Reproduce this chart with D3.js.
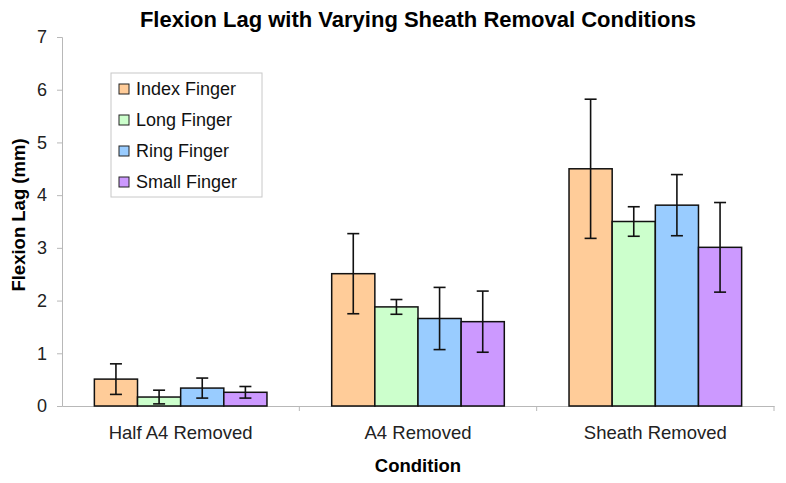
<!DOCTYPE html>
<html>
<head>
<meta charset="utf-8">
<script src="https://cdn.jsdelivr.net/npm/d3@7"></script>
<style>
  body { margin: 0; background: #fff; }
  svg { font-family: Arial, "Liberation Sans", sans-serif; }
</style>
</head>
<body>
<svg width="786" height="483"></svg>
<script>
// Chart data
const conditions = ["Half A4 Removed", "A4 Removed", "Sheath Removed"];
const fingers = ["Index Finger", "Long Finger", "Ring Finger", "Small Finger"];
const fingerColors = ["#FFCC99", "#CCFFCC", "#99CCFF", "#CC99FF"];
const meanIndex = [0.51, 2.51, 4.5];
const meanLong = [0.17, 1.88, 3.5];
const meanRing = [0.34, 1.66, 3.81];
const meanSmall = [0.26, 1.6, 3.01];
const errIndex = [0.29, 0.76, 1.32];
const errLong = [0.13, 0.14, 0.28];
const errRing = [0.19, 0.59, 0.58];
const errSmall = [0.11, 0.58, 0.85];
const yTicks = [0, 1, 2, 3, 4, 5, 6, 7];

const means = [meanIndex, meanLong, meanRing, meanSmall];
const errs = [errIndex, errLong, errRing, errSmall];

const margin = { top: 37, right: 12, bottom: 77, left: 62 };
const width = 786 - margin.left - margin.right;
const height = 483 - margin.top - margin.bottom;

const svg = d3.select("svg")
    .append("g")
    .attr("transform", `translate(${margin.left},${margin.top})`);

// Scales (gap width 150% of a bar, as in the original)
const x0 = d3.scaleBand().domain(conditions).range([0, width]).padding(0);
const x1 = d3.scaleBand().domain(fingers).range([0, x0.bandwidth()])
    .paddingInner(0).paddingOuter(0.75);
const y = d3.scaleLinear().domain([0, 7]).range([height, 0]);

// Axes
const gy = svg.append("g")
    .call(d3.axisLeft(y).tickValues(yTicks).tickFormat(d3.format("d")).tickSize(5).tickPadding(10));
gy.select(".domain").attr("stroke", "#b8b8b8");
gy.selectAll(".tick line").attr("stroke", "#b8b8b8");
gy.selectAll(".tick text").attr("fill", "#222").style("font-size", "18px");

const gx = svg.append("g")
    .attr("transform", `translate(0,${height})`)
    .call(d3.axisBottom(x0).tickSize(0).tickPadding(20));
gx.select(".domain").attr("stroke", "#b8b8b8");
gx.selectAll(".tick text").attr("fill", "#222").style("font-size", "18.5px");

// Category boundary ticks
svg.append("g")
    .selectAll("line")
    .data(conditions.map((c, i) => i + 1))
    .join("line")
    .attr("x1", d => d * x0.bandwidth())
    .attr("x2", d => d * x0.bandwidth())
    .attr("y1", height)
    .attr("y2", height + 5)
    .attr("stroke", "#b8b8b8");

// Bars
const groups = svg.selectAll(".cond")
    .data(conditions)
    .join("g")
    .attr("class", "cond")
    .attr("transform", d => `translate(${x0(d)},0)`);

groups.each(function(c, ci) {
    const g = d3.select(this);
    fingers.forEach((f, fi) => {
        const v = means[fi][ci];
        const e = errs[fi][ci];
        const bx = x1(f);
        const bw = x1.bandwidth();
        g.append("rect")
            .attr("x", bx)
            .attr("y", y(v))
            .attr("width", bw)
            .attr("height", y(0) - y(v))
            .attr("fill", fingerColors[fi])
            .attr("stroke", "#111")
            .attr("stroke-width", 1.5);
        const cx = bx + bw / 2;
        g.append("line")
            .attr("x1", cx).attr("x2", cx)
            .attr("y1", y(v + e)).attr("y2", y(v - e))
            .attr("stroke", "#111").attr("stroke-width", 1.6);
        [v + e, v - e].forEach(t => {
            g.append("line")
                .attr("x1", cx - 6).attr("x2", cx + 6)
                .attr("y1", y(t)).attr("y2", y(t))
                .attr("stroke", "#111").attr("stroke-width", 1.6);
        });
    });
});

// Legend
const legend = svg.append("g").attr("transform", `translate(${111 - margin.left},${73 - margin.top})`);
legend.append("rect")
    .attr("width", 151).attr("height", 124)
    .attr("fill", "#fff").attr("stroke", "#c8c8c8");
fingers.forEach((f, i) => {
    const row = legend.append("g").attr("transform", `translate(8,${16 + i * 31})`);
    row.append("rect")
        .attr("x", 0).attr("y", -5).attr("width", 10).attr("height", 10)
        .attr("fill", fingerColors[i]).attr("stroke", "#222");
    row.append("text")
        .attr("x", 17).attr("y", 0)
        .attr("dy", "0.35em")
        .style("font-size", "18px")
        .attr("fill", "#111")
        .text(f);
});

// Title and axis labels
svg.append("text")
    .attr("x", 418 - margin.left)
    .attr("y", 27 - margin.top)
    .attr("text-anchor", "middle")
    .style("font-size", "22px")
    .style("font-weight", "bold")
    .text("Flexion Lag with Varying Sheath Removal Conditions");

svg.append("text")
    .attr("x", 418 - margin.left)
    .attr("y", 472 - margin.top)
    .attr("text-anchor", "middle")
    .style("font-size", "18.5px")
    .style("font-weight", "bold")
    .text("Condition");

svg.append("text")
    .attr("transform", "rotate(-90)")
    .attr("x", -(215 - margin.top))
    .attr("y", 25 - margin.left)
    .attr("text-anchor", "middle")
    .style("font-size", "18.5px")
    .style("font-weight", "bold")
    .text("Flexion Lag (mm)");
</script>
</body>
</html>
